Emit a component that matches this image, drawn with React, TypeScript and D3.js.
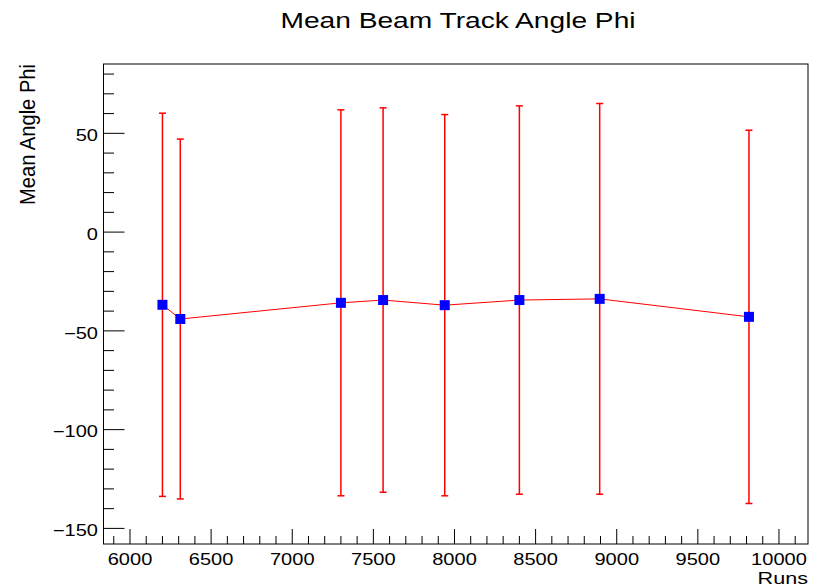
import React from 'react';
import * as d3 from 'd3';

const title = 'Mean Beam Track Angle Phi';
const xTitle = 'Runs';
const yTitle = 'Mean Angle Phi';

const runs = [6200, 6310, 7300, 7560, 7940, 8400, 8895, 9815];
const meanPhi = [-36.8, -44.0, -35.8, -34.4, -37.0, -34.4, -33.8, -42.9];
const errPhi = [97.0, 91.1, 97.7, 97.3, 96.5, 98.3, 98.9, 94.5];

const xMajorTicks = [6000, 6500, 7000, 7500, 8000, 8500, 9000, 9500, 10000];
const yMajorTicks = [-150, -100, -50, 0, 50];

const W = 819;
const H = 588;
const frame = { left: 103.5, right: 808, top: 64, bottom: 544 };

const fmt = (v: number) => (v < 0 ? '\u2212' + Math.abs(v) : String(v));

export default function App() {
  const x = d3.scaleLinear().domain([5836.7, 10178.9]).range([frame.left, frame.right]);
  const y = d3.scaleLinear().domain([-157.9, 85.1]).range([frame.bottom, frame.top]);

  const xMinor = d3.range(5900, 10101, 100).filter((v) => v % 500 !== 0);
  const yMinor = d3.range(-150, 81, 10).filter((v) => v % 50 !== 0);

  const pts = runs.map((r, i) => ({ r, m: meanPhi[i], e: errPhi[i] }));
  const line = d3
    .line<{ r: number; m: number }>()
    .x((d) => x(d.r))
    .y((d) => y(d.m))
    .curve(d3.curveLinear);

  const font = "'Liberation Sans', Arial, Helvetica, sans-serif";
  const sx = 1.27;

  return (
    <svg
      width={W}
      height={H}
      style={{ position: 'absolute', left: 0, top: 0, background: '#fff' }}
      fontFamily={font}
    >
      <rect x={0} y={0} width={W} height={H} fill="#fff" />
      {/* title */}
      <text
        transform="translate(458,28) scale(1.28,1)"
        fontSize={22}
        textAnchor="middle"
        fill="#000"
      >
        {title}
      </text>

      {/* frame */}
      <rect
        x={frame.left}
        y={frame.top}
        width={frame.right - frame.left}
        height={frame.bottom - frame.top}
        fill="none"
        stroke="#000"
        strokeWidth={1}
      />

      {/* x ticks */}
      {xMajorTicks.map((v) => (
        <line key={'xM' + v} x1={x(v)} x2={x(v)} y1={frame.bottom} y2={frame.bottom - 15} stroke="#000" strokeWidth={1} />
      ))}
      {xMinor.map((v) => (
        <line key={'xm' + v} x1={x(v)} x2={x(v)} y1={frame.bottom} y2={frame.bottom - 8} stroke="#000" strokeWidth={1} />
      ))}
      {xMajorTicks.map((v) => (
        <text
          key={'xl' + v}
          transform={`translate(${x(v)},564.5) scale(${sx},1)`}
          fontSize={15.8}
          textAnchor="middle"
          fill="#000"
        >
          {fmt(v)}
        </text>
      ))}
      <text
        transform={`translate(${frame.right},584) scale(${sx},1)`}
        fontSize={17}
        textAnchor="end"
        fill="#000"
      >
        {xTitle}
      </text>

      {/* y ticks */}
      {yMajorTicks.map((v) => (
        <line key={'yM' + v} x1={frame.left} x2={frame.left + 21} y1={y(v)} y2={y(v)} stroke="#000" strokeWidth={1} />
      ))}
      {yMinor.map((v) => (
        <line key={'ym' + v} x1={frame.left} x2={frame.left + 10.5} y1={y(v)} y2={y(v)} stroke="#000" strokeWidth={1} />
      ))}
      {yMajorTicks.map((v) => (
        <text
          key={'yl' + v}
          transform={`translate(98,${y(v) + 7.8}) scale(${sx},1)`}
          fontSize={15.8}
          textAnchor="end"
          fill="#000"
        >
          {fmt(v)}
        </text>
      ))}
      <text
        transform={`translate(35,64) rotate(-90) scale(1,1.35)`}
        fontSize={16}
        textAnchor="end"
        textLength={141}
        lengthAdjust="spacingAndGlyphs"
        fill="#000"
      >
        {yTitle}
      </text>

      {/* error bars */}
      {pts.map((d, i) => (
        <g key={'e' + i} stroke="#ff0000">
          <line x1={x(d.r)} x2={x(d.r)} y1={y(d.m + d.e)} y2={y(d.m - d.e)} strokeWidth={1.5} />
          <line x1={x(d.r) - 3.5} x2={x(d.r) + 3.5} y1={y(d.m + d.e)} y2={y(d.m + d.e)} strokeWidth={1.5} />
          <line x1={x(d.r) - 3.5} x2={x(d.r) + 3.5} y1={y(d.m - d.e)} y2={y(d.m - d.e)} strokeWidth={1.5} />
        </g>
      ))}

      {/* connecting line */}
      <path d={line(pts) || ''} fill="none" stroke="#ff0000" strokeWidth={1} />

      {/* markers */}
      {pts.map((d, i) => (
        <rect key={'m' + i} x={x(d.r) - 5} y={y(d.m) - 5} width={10} height={10} fill="#0000ff" />
      ))}
    </svg>
  );
}
